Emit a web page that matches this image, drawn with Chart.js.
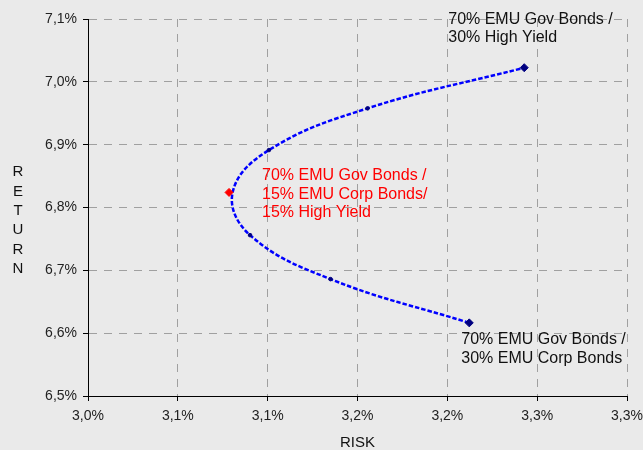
<!DOCTYPE html>
<html>
<head>
<meta charset="utf-8">
<script src="https://cdn.jsdelivr.net/npm/chart.js@4.4.1/dist/chart.umd.min.js"></script>
<style>
    html, body { margin: 0; padding: 0; background: #eaeaea; }
    #wrap { width: 643px; height: 450px; }
</style>
</head>
<body>
<div id="wrap"><canvas id="frontierChartID"></canvas></div>
<script>
// axis ticks
var xTickValues = [3.00, 3.05, 3.10, 3.15, 3.20, 3.25, 3.30];
var xTickLabels = ['3,0%', '3,1%', '3,1%', '3,2%', '3,2%', '3,3%', '3,3%'];
var yTickValues = [6.5, 6.6, 6.7, 6.8, 6.9, 7.0, 7.1];
var yTickLabels = ['6,5%', '6,6%', '6,7%', '6,8%', '6,9%', '7,0%', '7,1%'];

// efficient frontier (risk %, return %), from 70/30 Corp end to 70/30 HY end
var frontierRisk   = [3.2122, 3.1350, 3.0902, 3.0805, 3.1007, 3.1556, 3.2428];
var frontierReturn = [6.6164, 6.6860, 6.7560, 6.8240, 6.8914, 6.9578, 7.0225];

// minimum variance portfolio
var minVarRisk   = [3.0785];
var minVarReturn = [6.8240];

var labelTop    = ['70% EMU Gov Bonds /', '30% High Yield'];
var labelMin    = ['70% EMU Gov Bonds /', '15% EMU Corp Bonds/', '15% High Yield'];
var labelBottom = ['70% EMU Gov Bonds /', '30% EMU Corp Bonds'];
var xTitle = 'RISK';
var yTitle = 'RETURN';

var frontierPoints = frontierRisk.map(function(r, i) { return {x: r, y: frontierReturn[i]}; });
var minVarPoints = minVarRisk.map(function(r, i) { return {x: r, y: minVarReturn[i]}; });

var lastIdx = frontierRisk.length - 1;
var minIdx = frontierRisk.indexOf(Math.min.apply(null, frontierRisk));

var FONT = 'Liberation Sans, Arial, sans-serif';

var textPlugin = {
    id: 'textPlugin',
    afterDatasetsDraw: function(chart) {
        var ctx = chart.ctx;
        var xs = chart.scales.x, ys = chart.scales.y;
        var area = chart.chartArea;

        function block(lines, px, py, color) {
            ctx.fillStyle = color;
            ctx.textAlign = 'left';
            ctx.textBaseline = 'middle';
            ctx.font = '16px ' + FONT;
            for (var i = 0; i < lines.length; i++) {
                ctx.fillText(lines[i], px, py + i * 18.8);
            }
        }
        ctx.save();
        var top = frontierPoints[lastIdx], bot = frontierPoints[0], mv = minVarPoints[0];
        block(labelTop, xs.getPixelForValue(top.x) - 76, ys.getPixelForValue(top.y) - 48.5, '#111');
        block(labelMin, xs.getPixelForValue(mv.x) + 33, ys.getPixelForValue(mv.y) - 17, '#ff0000');
        block(labelBottom, xs.getPixelForValue(bot.x) - 8, ys.getPixelForValue(bot.y) + 17, '#111');

        // axis titles
        ctx.fillStyle = '#111';
        ctx.font = '15px ' + FONT;
        ctx.textAlign = 'center';
        ctx.textBaseline = 'middle';
        ctx.fillText(xTitle, (area.left + area.right) / 2, 443);
        for (var i = 0; i < yTitle.length; i++) {
            ctx.fillText(yTitle[i], 18, 172 + i * 19.4);
        }
        ctx.restore();
    }
};

var frontier_chart_config = {
    type: 'scatter',
    data: {
        datasets: [
            {
                label: 'Min variance',
                data: minVarPoints,
                order: 0,
                showLine: false,
                pointStyle: 'rectRot',
                pointRadius: 4,
                pointBackgroundColor: '#ff0000',
                pointBorderColor: '#ff0000',
                pointBorderWidth: 1
            },
            {
                label: 'Frontier',
                data: frontierPoints,
                order: 1,
                showLine: true,
                tension: 0.4,
                borderColor: '#0000ff',
                borderWidth: 2.5,
                borderDash: [4.5, 2],
                pointStyle: function(c) {
                    return (c.dataIndex === 0 || c.dataIndex === lastIdx) ? 'rectRot' : 'circle';
                },
                pointRadius: function(c) {
                    if (c.dataIndex === 0 || c.dataIndex === lastIdx) return 4;
                    if (c.dataIndex === minIdx) return 0;
                    return 1.8;
                },
                pointBackgroundColor: '#000080',
                pointBorderColor: '#000080',
                pointBorderWidth: 1
            }
        ]
    },
    options: {
        responsive: true,
        maintainAspectRatio: false,
        animation: false,
        layout: { padding: { top: 19, right: 16, left: 0, bottom: 0 } },
        plugins: {
            legend: { display: false },
            tooltip: { enabled: false }
        },
        scales: {
            x: {
                type: 'linear',
                min: 3.0,
                max: 3.3,
                afterBuildTicks: function(s) { s.ticks = xTickValues.map(function(v) { return {value: v}; }); },
                afterFit: function(s) { s.height = 54; s.paddingLeft = 0; s.paddingRight = 0; },
                ticks: {
                    callback: function(v, i) { return xTickLabels[i]; },
                    color: '#222',
                    font: { family: FONT, size: 14 },
                    padding: 7,
                    maxRotation: 0,
                    autoSkip: false
                },
                grid: { color: '#a0a0a0', lineWidth: 1, tickColor: '#000', tickLength: 5 },
                border: { display: true, color: '#000', width: 1, dash: [8, 7] }
            },
            y: {
                type: 'linear',
                min: 6.5,
                max: 7.1,
                afterBuildTicks: function(s) { s.ticks = yTickValues.map(function(v) { return {value: v}; }); },
                afterFit: function(s) { s.width = 88; s.paddingTop = 0; s.paddingBottom = 0; },
                ticks: {
                    callback: function(v, i) { return yTickLabels[i]; },
                    color: '#222',
                    font: { family: FONT, size: 14 },
                    padding: 6,
                    autoSkip: false
                },
                grid: { color: '#a0a0a0', lineWidth: 1, tickColor: '#000', tickLength: 5 },
                border: { display: true, color: '#000', width: 1, dash: [8, 7] }
            }
        }
    },
    plugins: [textPlugin]
};

var myContext = document.getElementById('frontierChartID');
var myChart = new Chart(myContext, frontier_chart_config);
</script>
</body>
</html>
